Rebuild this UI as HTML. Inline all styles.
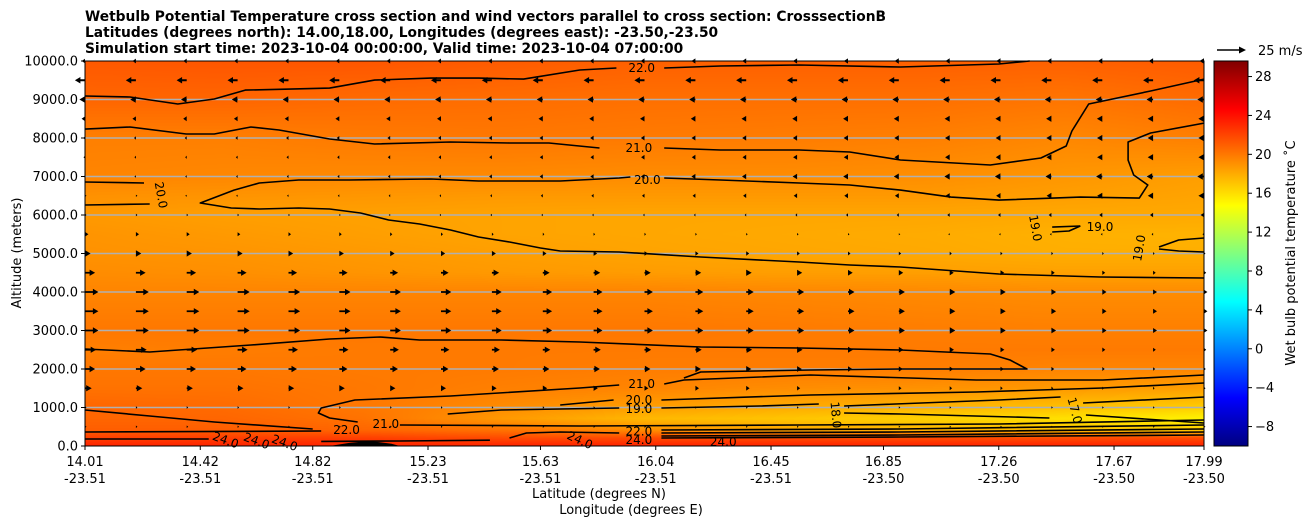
<!DOCTYPE html>
<html><head><meta charset="utf-8">
<style>
body{margin:0;background:#fff;width:1311px;height:526px;overflow:hidden;position:relative;font-family:"DejaVu Sans","Liberation Sans",sans-serif;}
#field{position:absolute;left:85px;top:61px;}
#ov{position:absolute;left:0;top:0;}
</style></head><body>
<canvas id="field" width="1119" height="385"></canvas>
<svg id="ov" width="1311" height="526" font-family="DejaVu Sans, Liberation Sans, sans-serif"></svg>
<script>
// ---- data ----
const gridAlts=[0,200,400,700,1000,1500,2000,2500,3000,4000,4500,5000,5500,6000,6500,7000,8000,9000,10000];
const gridLats=[14.0,14.5,15.0,15.5,16.0,16.5,17.0,17.5,18.0];
const tempRows=[
[24.5,24.5,24.5,24.5,24.5,24.5,24.5,24.5,24.5],
[23.5,23.5,23.5,23,23,23,23,23,23],
[22.3,22.3,22.0,21.5,20.5,19.5,19,18.5,18],
[22,22,21.5,20,18.8,18.3,17.8,17.2,16.5],
[22,21.8,21.3,20.5,19.8,19.3,19,18.5,18],
[21.5,21.5,21.3,21,20.8,20.5,20.3,20,19.8],
[21.3,21.3,21.2,21.2,21.1,21.1,21.1,20.8,20.8],
[21,21.1,21.2,21.2,21.2,21.2,21.2,21.2,21.2],
[21.3,21.3,21.3,21.3,21.3,21.2,21.1,21,21],
[20.8,20.8,20.8,20.8,20.8,20.7,20.6,20.5,20.5],
[20.5,20.4,20.2,20.0,19.9,19.8,19.8,19.7,19.7],
[20.3,20.2,20,19.8,19.6,19.5,19.4,19.2,19.2],
[20.2,20,19.8,19.6,19.5,19.4,19.3,19.1,19.0],
[20,19.8,19.7,19.6,19.5,19.5,19.5,19.4,19.4],
[20.3,20.2,20.1,20,20,20,20,19.8,19.6],
[20.8,20.7,20.6,20.6,20.5,20.5,20.4,20.1,19.8],
[21,21,21.2,21.3,21.2,21.1,21.0,20.7,21],
[22,22,21.8,21.7,21.6,21.6,21.6,21.4,21.8],
[22.5,22.6,22.6,22.4,22.2,22.2,22.2,22.2,22.4]];
const windAlts=[0,500,1000,1500,2000,2500,3000,3500,4000,4500,5000,5500,6000,6500,7000,7500,8000,8500,9000,9500,10000];
const windWest=[0,0.5,1,6,9,10,12,12,12,9,5,3,1,0.5,-0.5,-1,-1.5,-3,-5,-9,-3];
const windEast=[0,0,0.5,1,1.5,2,3,3,3,2,1,-1,-3,-5,-6,-5,-5,-5,-6,-9,-4];
const xTickLats=[14.01,14.42,14.82,15.23,15.63,16.04,16.45,16.85,17.26,17.67,17.99];
const xTickLons=["-23.51","-23.51","-23.51","-23.51","-23.51","-23.51","-23.51","-23.50","-23.50","-23.50","-23.50"];
const yTicks=[0,1000,2000,3000,4000,5000,6000,7000,8000,9000,10000];
const cbTicks=[-8,-4,0,4,8,12,16,20,24,28];
const contours=[
 {lat:[14.01,14.17,14.34,14.47,14.58,14.74,14.88,15.04,15.24,15.41,15.57,15.77,15.90],alt:[9090,9064,8882,9012,9245,9271,9297,9505,9557,9557,9531,9765,9817]},
 {lat:[16.07,16.27,16.55,16.91,17.26,17.37],alt:[9817,9869,9895,9843,9921,10000]},
 {lat:[14.01,14.17,14.37,14.47,14.60,14.70,14.88,15.04,15.31,15.52,15.66,15.84],alt:[8232,8286,8104,8104,8286,8208,7974,7843,7895,7869,7869,7740]},
 {lat:[16.07,16.27,16.55,16.73,16.91,17.23,17.41,17.50,17.52,17.58,17.80,17.99],alt:[7740,7688,7688,7636,7428,7298,7480,7792,8182,8883,9220,9531]},
 {lat:[14.01,14.22],alt:[6856,6830]},
 {lat:[14.01,14.24],alt:[6259,6285]},
 {lat:[17.99,17.62,17.26,16.91,16.73,16.55,16.20,15.91,15.70,15.63,15.52,15.41,15.31,15.20,15.09,14.99,14.88,14.77,14.63,14.53,14.42,14.54,14.63,14.77,14.95,15.24,15.41,15.70,15.91,15.95],
  alt:[4363,4389,4467,4649,4701,4778,4908,5038,5064,5142,5298,5428,5610,5765,5869,6051,6155,6181,6155,6181,6311,6648,6830,6908,6908,6934,6882,6882,6960,6986]},
 {lat:[16.07,16.27,16.55,16.73,16.91,17.09,17.26,17.55,17.76,17.79,17.74,17.72,17.72,17.80,17.99],alt:[6960,6908,6830,6778,6648,6466,6388,6466,6440,6778,7038,7427,7895,8129,8388]},
 {lat:[17.45,17.55],alt:[5687,5713]},
 {lat:[17.45,17.51,17.55],alt:[5558,5584,5713]},
 {lat:[17.83,17.90,17.99],alt:[5168,5350,5402]},
 {lat:[17.83,17.90,17.99],alt:[5116,5064,5038]},
 {lat:[14.01,14.24,14.60,14.88,15.06,15.20,15.49,15.77,16.20,16.55,16.91,17.23,17.30,17.36,16.91,16.59,16.20,16.14],alt:[2519,2441,2623,2779,2831,2753,2753,2701,2571,2545,2493,2389,2233,2000,2000,1974,1922,1766]},
 {lat:[16.07,16.14,16.59,17.18,17.63,17.99],alt:[1610,1714,1844,1714,1714,1844]},
 {lat:[15.91,15.77,15.31,14.97,14.85,14.84,14.88,14.98],alt:[1584,1506,1298,1195,987,857,727,623]},
 {lat:[15.70,15.89],alt:[1065,1195]},
 {lat:[16.06,16.59,17.18,17.63,17.99],alt:[1195,1324,1402,1506,1636]},
 {lat:[15.30,15.49,15.70,15.91],alt:[831,935,961,987]},
 {lat:[16.06,16.41,16.62],alt:[987,1039,1091]},
 {lat:[16.71,17.26,17.48],alt:[1039,1195,1272]},
 {lat:[17.56,17.99],alt:[1117,1272]},
 {lat:[16.71,16.91,17.44],alt:[857,831,727]},
 {lat:[17.57,17.99],alt:[805,597]},
 {lat:[15.13,15.77,16.55,17.26,17.99],alt:[545,519,545,571,675]},
 {lat:[16.06,16.91,17.99],alt:[415,441,545]},
 {lat:[16.06,16.91,17.99],alt:[338,364,441]},
 {lat:[16.06,16.91,17.99],alt:[260,286,364]},
 {lat:[16.06,16.91,17.99],alt:[208,234,286]},
 {lat:[14.01,14.24,14.47,14.82],alt:[935,779,623,441]},
 {lat:[14.01,14.85],alt:[364,390]},
 {lat:[14.01,14.45],alt:[182,182]},
 {lat:[15.52,15.58,15.70,15.91],alt:[208,338,364,338]},
 {lat:[14.85,15.13,15.45],alt:[120,130,150]}
];
const labels=[
 {t:"22.0",lat:15.99,alt:9817,r:0},{t:"21.0",lat:15.98,alt:7740,r:0},{t:"20.0",lat:16.01,alt:6908,r:0},
 {t:"20.0",lat:14.28,alt:6518,r:80},{t:"19.0",lat:17.62,alt:5687,r:0},{t:"19.0",lat:17.39,alt:5661,r:80},
 {t:"19.0",lat:17.76,alt:5142,r:-80},{t:"21.0",lat:15.99,alt:1610,r:0},{t:"20.0",lat:15.98,alt:1195,r:0},
 {t:"19.0",lat:15.98,alt:961,r:0},{t:"18.0",lat:16.68,alt:805,r:85},{t:"17.0",lat:17.53,alt:923,r:75},
 {t:"21.0",lat:15.08,alt:571,r:0},{t:"22.0",lat:14.94,alt:415,r:0},{t:"24.0",lat:14.51,alt:150,r:20},
 {t:"24.0",lat:14.62,alt:130,r:20},{t:"24.0",lat:14.72,alt:80,r:20},{t:"24.0",lat:15.77,alt:150,r:25},
 {t:"22.0",lat:15.98,alt:380,r:0},{t:"24.0",lat:15.98,alt:150,r:0},{t:"24.0",lat:16.28,alt:110,r:0}
];
// ---- scales ----
const X0=85,X1=1204,Y0=446,Y1=61;
const xs=l=>X0+(l-14.01)/(17.99-14.01)*(X1-X0);
const ys=a=>Y0-a/10000*(Y0-Y1);
const CMIN=-10,CMAX=29.6;
const FILL_SHIFT=-1.3;
function jet(v){let f=(v-CMIN)/(CMAX-CMIN);f=Math.max(0,Math.min(1,f));
 const c=(x)=>Math.max(0,Math.min(1,x));
 return [c(1.5-Math.abs(4*f-3)),c(1.5-Math.abs(4*f-2)),c(1.5-Math.abs(4*f-1))].map(x=>Math.round(x*255));}
function interpIdx(arr,v){for(let i=0;i<arr.length-1;i++){if(v<=arr[i+1])return [i,(v-arr[i])/(arr[i+1]-arr[i])];}return [arr.length-2,1];}
const cv=document.getElementById('field'),ctx=cv.getContext('2d');
const img=ctx.createImageData(1119,385);
const colIdx=[];for(let px=0;px<1119;px++){const lat=14.01+px/1118*3.98;colIdx.push(interpIdx(gridLats,Math.max(14,Math.min(18,lat))));}
for(let py=0;py<385;py++){const alt=(384-py)/384*10000;const [ri,rf]=interpIdx(gridAlts,alt);
 for(let px=0;px<1119;px++){const [ci,cf]=colIdx[px];
  const v=(tempRows[ri][ci]*(1-cf)+tempRows[ri][ci+1]*cf)*(1-rf)+(tempRows[ri+1][ci]*(1-cf)+tempRows[ri+1][ci+1]*cf)*rf;
  const col=jet(v+FILL_SHIFT);const k=(py*1119+px)*4;img.data[k]=col[0];img.data[k+1]=col[1];img.data[k+2]=col[2];img.data[k+3]=255;}}
ctx.putImageData(img,0,0);
const NS="http://www.w3.org/2000/svg",svg=document.getElementById('ov');
function mk(tag,attrs,parent){const e=document.createElementNS(NS,tag);for(const k in attrs)e.setAttribute(k,attrs[k]);(parent||svg).appendChild(e);return e;}
yTicks.forEach(a=>{if(a===0||a===10000)return;
 const g=mk('line',{x1:X0,x2:X1,y1:ys(a),y2:ys(a),stroke:'#b0b0b0','stroke-width':1.5});
 
 });
contours.forEach(c=>{const p=c.lat.map((l,i)=>xs(l).toFixed(1)+','+ys(c.alt[i]).toFixed(1)).join(' ');
 const e=mk('polyline',{points:p,fill:'none',stroke:'#000','stroke-width':1.6,'stroke-linejoin':'round'});
 
 });
const blobLat=[14.88,14.95,15.02,15.10,15.13],blobAlt=[0,80,130,60,0];
const bl=mk('polygon',{points:blobLat.map((l,i)=>xs(l)+','+ys(blobAlt[i])).join(' '),fill:'#000'});


labels.forEach(L=>{const x=xs(L.lat),y=ys(L.alt);
 const t=mk('text',{x:x,y:y+4,'font-size':12,'text-anchor':'middle',transform:`rotate(${L.r} ${x} ${y})`});
 t.textContent=L.t;
 
 });
const SC=28/25;
function arrow(x,y,u,parent){const L=u*SC;const s=Math.sign(L)||1;const a=Math.abs(L);
 const hl=Math.min(a,5.5),hw=Math.min(3.2,1+a*0.4),sw=0.9;
 let pts;
 if(a<=hl){pts=[[x,y-hw],[x+s*Math.max(a,1.5),y],[x,y+hw]];}
 else pts=[[x,y-sw],[x+s*(a-hl),y-sw],[x+s*(a-hl),y-hw],[x+s*a,y],[x+s*(a-hl),y+hw],[x+s*(a-hl),y+sw],[x,y+sw]];
 return mk('polygon',{points:pts.map(p=>p[0].toFixed(1)+','+p[1].toFixed(1)).join(' '),fill:'#000'},parent);}
const ag=mk('g',{});
for(let c=0;c<=22;c++){const x=X0+c*(X1-X0)/22;const f=c/22;
 windAlts.forEach((a,i)=>{const u=windWest[i]*(1-f)+windEast[i]*f;if(Math.abs(u)<0.3&&a===0)return;
  const e=arrow(x,ys(a),u,ag);
  
  });}
const fr=mk('rect',{x:X0,y:Y1,width:X1-X0,height:Y0-Y1,fill:'none',stroke:'#000','stroke-width':1});

yTicks.forEach(a=>{const y=ys(a);mk('line',{x1:X0-4,x2:X0,y1:y,y2:y,stroke:'#000'});
 const t=mk('text',{x:X0-7,y:y+4.5,'font-size':13,'text-anchor':'end'});t.textContent=a.toFixed(1);
 });
xTickLats.forEach((l,i)=>{const x=xs(l);mk('line',{x1:x,x2:x,y1:Y0,y2:Y0+4,stroke:'#000'});
 const t=mk('text',{x:x,y:466,'font-size':13,'text-anchor':'middle'});t.textContent=l.toFixed(2);
 
 const t2=mk('text',{x:x,y:483,'font-size':13,'text-anchor':'middle'});t2.textContent=xTickLons[i];
 });
const CBX=1214,CBW=34;
const cby=v=>Y0-(v-CMIN)/(CMAX-CMIN)*(Y0-Y1);
const defs=mk('defs',{});const lg=mk('linearGradient',{id:'cbg',x1:0,y1:1,x2:0,y2:0},defs);
for(let i=0;i<=40;i++){const v=CMIN+(CMAX-CMIN)*i/40;const c=jet(v);mk('stop',{offset:i/40,'stop-color':`rgb(${c})`},lg);}
const cb=mk('rect',{x:CBX,y:Y1,width:CBW,height:Y0-Y1,fill:'url(#cbg)',stroke:'#000','stroke-width':1});

cbTicks.forEach(v=>{const y=cby(v);mk('line',{x1:CBX+CBW,x2:CBX+CBW+4,y1:y,y2:y,stroke:'#000'});
 const t=mk('text',{x:CBX+CBW+7,y:y+4.5,'font-size':13});t.textContent=v<0?'\u2212'+Math.abs(v):String(v);
 });
</script>
<svg width="1311" height="526" style="position:absolute;left:0;top:0" font-family="DejaVu Sans, Liberation Sans, sans-serif">
<g font-weight="bold" font-size="13.8">
<text x="85" y="21">Wetbulb Potential Temperature cross section and wind vectors parallel to cross section: CrosssectionB</text>
<text x="85" y="37">Latitudes (degrees north): 14.00,18.00, Longitudes (degrees east): -23.50,-23.50</text>
<text x="85" y="53">Simulation start time: 2023-10-04 00:00:00, Valid time: 2023-10-04 07:00:00</text>
</g>
<text x="0" y="0" font-size="13" text-anchor="middle" transform="translate(21 253) rotate(-90)">Altitude (meters)</text>
<text x="599" y="498" font-size="13" text-anchor="middle">Latitude (degrees N)</text>
<text x="631" y="514" font-size="13" text-anchor="middle">Longitude (degrees E)</text>
<text x="0" y="0" font-size="13" text-anchor="middle" transform="translate(1295 253) rotate(-90)">Wet bulb potential temperature ˚C</text>
<g>
<polygon points="1217,49.2 1239,49.2 1239,46.5 1246,50 1239,53.5 1239,50.8 1217,50.8" fill="#000"/>
<text x="1258" y="55" font-size="13">25 m/s</text>
</g>
</svg>
</body></html>
